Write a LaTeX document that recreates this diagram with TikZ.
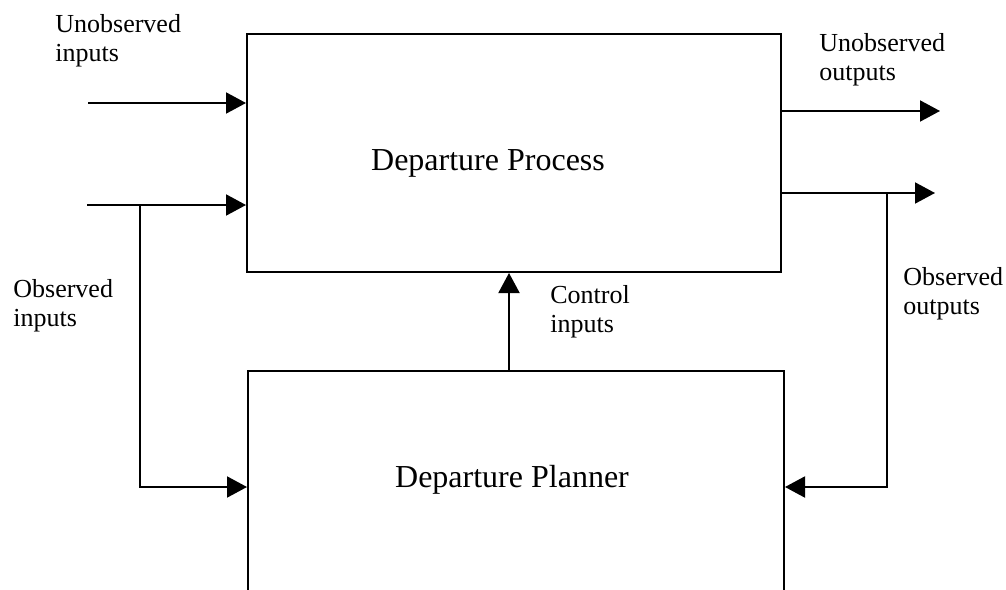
\documentclass[tikz,border=0pt]{standalone}
\usepackage{fontspec}
\setmainfont{Liberation Serif}
\usetikzlibrary{arrows.meta,positioning}
\tikzset{>={Triangle[length=10pt,width=10.5pt]}}
\tikzset{
  blockbox/.style={draw,line width=1pt,inner sep=0pt},
  blocktext/.style={font=\fontsize{16}{19}\selectfont,inner sep=0pt},
  sidelabel/.style={font=\fontsize{13}{14.5}\selectfont,align=left,inner sep=0pt,anchor=north west},
  flow/.style={line width=1pt,->},
}

\begin{document}
\begin{tikzpicture}[x=0.5pt,y=-0.5pt]
      \useasboundingbox (0,0) rectangle (1006,589);
      % the two blocks (planner runs off the bottom of the page)
      \node[blockbox,minimum width=267pt,minimum height=119pt] (process) at (514,153) {};
      \node[blockbox,minimum width=268pt,minimum height=116pt,anchor=north west] (planner) at (247,370) {};
      \node[blocktext] (processtext) at (488,163) {Departure Process};
      \node[blocktext] (plannertext) at (512,480) {Departure Planner};
      % free ends and branch points
      \coordinate (unobsin) at (88,103);
      \coordinate (obsin) at (87,205);
      \coordinate (obsinsplit) at (140,205);
      \coordinate (feedin) at (140,487);
      \coordinate (unobsout) at (940,111);
      \coordinate (obsout) at (935,193);
      \coordinate (obsoutsplit) at (887,193);
      \coordinate (feedout) at (887,487);
      \coordinate (ctrl) at (509,0);
      % inputs
      \draw[flow] (unobsin) -- (unobsin -| process.west);
      \draw[flow] (obsin) -- (obsin -| process.west);
      \draw[flow] (obsinsplit) -- (feedin) -- (feedin -| planner.west);
      % outputs
      \draw[flow] (process.east |- unobsout) -- (unobsout);
      \draw[flow] (process.east |- obsout) -- (obsout);
      \draw[flow] (obsoutsplit) -- (feedout) -- (feedout -| planner.east);
      % control
      \draw[flow] (planner.north -| ctrl) -- (process.south -| ctrl);
      % labels
      \node[sidelabel] (unobsinlabel) at (55,14) {Unobserved\\inputs};
      \node[sidelabel] (obsinlabel) at (13,279) {Observed\\inputs};
      \node[sidelabel] (ctrllabel) at (550,285) {Control\\inputs};
      \node[sidelabel] (unobsoutlabel) at (819,33) {Unobserved\\outputs};
      \node[sidelabel] (obsoutlabel) at (903,267) {Observed\\outputs};
\end{tikzpicture}
\end{document}
